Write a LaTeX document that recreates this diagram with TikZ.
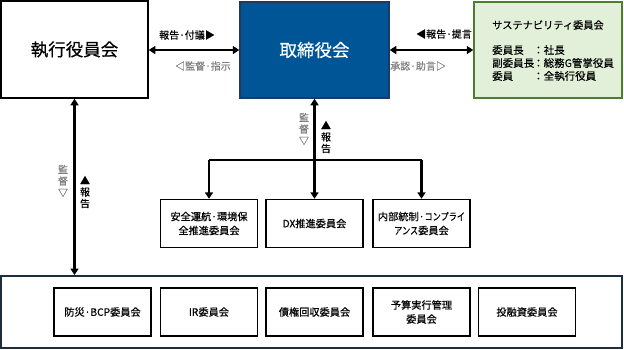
\documentclass[tikz,border=0pt]{standalone}
\usepackage{fontspec}
\setmainfont{Noto Sans CJK JP}[FakeBold=0.4]
\newfontfamily\narrowkana{Noto Sans CJK JP}[FakeBold=0.4,FakeStretch=0.8]
\usetikzlibrary{arrows.meta}
\definecolor{boardblue}{HTML}{005597}
\definecolor{boardedge}{HTML}{1F3864}
\definecolor{sustfill}{HTML}{E2F0D9}
\definecolor{sustedge}{HTML}{4E7D32}
\definecolor{lblgray}{HTML}{7F7F7F}
\definecolor{outeredge}{HTML}{1E2D3C}
\begin{document}
\begin{tikzpicture}[x=1pt,y=-1pt,
  bigbox/.style={draw=black,line width=1.5pt,fill=white,inner sep=0pt,align=center,font=\fontsize{17.5}{20}\selectfont},
  box/.style={draw=black,line width=1.4pt,fill=white,inner sep=0pt,align=center,minimum width=97pt,minimum height=48pt,font=\fontsize{10.2}{14}\selectfont},
  lbl/.style={inner sep=0pt,font=\fontsize{10}{12}\selectfont},
  glbl/.style={lbl,text=lblgray},
  vlbl/.style={inner sep=0pt,align=center,font=\fontsize{10}{11.5}\selectfont},
  sust/.style={inner sep=0pt,anchor=west,font=\fontsize{10.5}{12}\selectfont},
  tip/.tip={Triangle[length=6.5pt,width=8pt]},
  biarr/.style={line width=2.6pt,tip-tip},
  darr/.style={line width=2.6pt,-tip},
  bline/.style={line width=2.6pt}]
\useasboundingbox (0,0) rectangle (624,349);

% top row
\node[bigbox,minimum width=147pt,minimum height=97pt] (exec) at (74.5,49.5) {執行役員会};
\node[bigbox,draw=boardedge,fill=boardblue,text=white,minimum width=149pt,minimum height=96pt] (board) at (314.5,50) {取締役会};
\node[draw=sustedge,line width=1.5pt,fill=sustfill,inner sep=0pt,minimum width=148pt,minimum height=96pt] (sust) at (548,50) {};
\node[inner sep=0pt,font=\fontsize{10.2}{12}\selectfont] (susttitle) at (548,25) {サステナビリティ委員会};
\node[sust] (r1a) at (492,50) {委員長};
\node[sust] (r1b) at (533,50) {：社長};
\node[sust] (r2a) at (492,63) {副委員長};
\node[sust] (r2b) at (533,63) {：総務G管掌役員};
\node[sust] (r3a) at (492,76) {委員};
\node[sust] (r3b) at (533,76) {：全執行役員};

% horizontal arrows
\draw[biarr] (exec.east |- 0,50) -- (board.west |- 0,50);
\draw[biarr] (board.east |- 0,50) -- (sust.west |- 0,50);
\node[lbl] (l1) at (187,35) {報告·付議▶};
\node[glbl] (l2) at (203,66) {◁監督·指示};
\node[lbl] (l3) at (444,34) {◀報告·提言};
\node[glbl] (l4) at (418,66) {承認·助言▷};

% middle committees
\node[box] (anzen) at (209,223.5) {安全運航·環境保\\全推進委員会};
\node[box] (dx) at (314.5,223.5) {DX推進委員会};
\node[box] (naibu) at (421.5,223.5) {内部統制·{\narrowkana コンプライ}\\{\narrowkana アンス}委員会};

\coordinate (brL) at (209,160);
\coordinate (brR) at (421.5,160);
\draw[bline] (brL) -- (brR);
\draw[darr] (brL) -- (anzen.north);
\draw[darr] (brR) -- (naibu.north);
\draw[biarr] (board.south) -- (dx.north);
\node[vlbl,text=lblgray] (v1) at (304,129) {監\\督\\▽};
\node[vlbl] (v2) at (326,137) {▲\\報\\告};

% bottom group
\node[draw=outeredge,line width=2pt,fill=white,inner sep=0pt,minimum width=621pt,minimum height=72pt] (outer) at (311.5,312) {};
\node[box] (bousai) at (102.5,312) {防災·BCP委員会};
\node[box] (ir) at (209,312) {IR委員会};
\node[box] (saiken) at (314.5,312) {債権回収委員会};
\node[box] (yosan) at (421.5,312) {予算実行管理\\委員会};
\node[box] (touyu) at (527,312) {投融資委員会};

\draw[biarr] (exec.south) -- (exec.south |- outer.north);
\node[vlbl,text=lblgray] (v3) at (63,181) {監\\督\\▽};
\node[vlbl] (v4) at (85,192) {▲\\報\\告};
\end{tikzpicture}
\end{document}
